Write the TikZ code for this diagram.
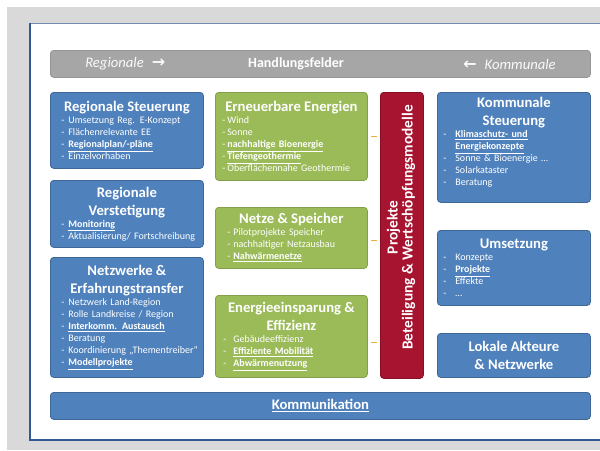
\documentclass[tikz,border=0pt]{standalone}
\usepackage{fontspec}
\setmainfont{Carlito}
\newfontfamily\arrowfont{DejaVu Sans}
\usepackage{tikz}
\usetikzlibrary{calc, positioning}

\definecolor{slidegray}{RGB}{217,217,217}
\definecolor{slideline}{RGB}{52,88,150}
\definecolor{bargray}{RGB}{166,166,166}
\definecolor{boxblue}{RGB}{79,129,189}
\definecolor{boxgreen}{RGB}{155,187,89}
\definecolor{boxred}{RGB}{166,20,48}
\definecolor{dashorange}{RGB}{240,172,60}

\newlength{\bulpre}
\newlength{\bulind}
\newcommand{\setbul}[2]{\setlength{\bulpre}{#1}\setlength{\bulind}{#2}}
\newcommand{\boxtitle}[1]{{\centering\fontsize{11}{13.5}\selectfont\bfseries #1\par}}
\newcommand{\bl}[1]{\par\hangindent=\bulind\hangafter=1\noindent\makebox[\bulind][l]{\hspace*{\bulpre}-}#1}
\newcommand{\ub}[1]{\underline{\textbf{#1}}}

\begin{document}
\begin{tikzpicture}[x=0.75pt,y=0.75pt,yscale=-1,xscale=1,
  box/.style={rounded corners=2.5pt, anchor=north west, inner sep=0pt, align=left, text=white, line width=0.6pt,
    font={\fontsize{7.5}{9}\selectfont\setlength{\parindent}{0pt}}},
  bluebox/.style={box, fill=boxblue, draw=boxblue!80!black},
  greenbox/.style={box, fill=boxgreen, draw=boxgreen!85!black},
  redbox/.style={box, fill=boxred, draw=boxred!80!black, align=center},
  barbox/.style={box, fill=bargray, draw=bargray!90!black},
  bartext/.style={inner sep=0pt, text=white, font=\fontsize{11}{13}\selectfont},
  dashline/.style={draw=dashorange, line width=1.2pt, shorten <=2.25pt, shorten >=2.25pt}]
		\useasboundingbox (0,0) rectangle (600,450);

		%Shape: Slide background
		\fill [slidegray] (7,7) rectangle (600,450);
		\fill [white] (30,23) rectangle (600,440);
		\draw [slideline!60!slidegray, line width=0.6pt] (30,23) -- (600,23);
		\draw [slideline, line width=1pt] (30,23) -- (30,440) -- (600,440);

		%Shape: Rectangle [Handlungsfelder bar]
		\node [barbox, minimum width=405pt, minimum height=20.25pt] (hf) at (50,50) {};
		% Text Node
		\node [bartext, anchor=west, text=white!94!bargray] (reg) at (85,64) {\textit{Regionale}\hspace{6pt}{\arrowfont\bfseries\fontsize{12}{13}\selectfont →}};
		% Text Node
		\node [bartext, font=\fontsize{10.5}{12}\selectfont\bfseries] (hftext) at (296,64) {Handlungsfelder};
		% Text Node
		\node [bartext, anchor=east, text=white!94!bargray] (komm) at (556,64) {{\arrowfont\bfseries\fontsize{12}{13}\selectfont ←}\hspace{6pt}\textit{Kommunale}};

		%Shape: Rectangle [Regionale Steuerung]
		\node [bluebox, text width=114.75pt, minimum height=57pt] (regst) at (50,92) {\setbul{8.25pt}{13.5pt}%
			\boxtitle{Regionale Steuerung}%
			\bl{Umsetzung Reg. E-Konzept}\bl{Flächenrelevante EE}\bl{\ub{Regionalplan/-pläne}}\bl{Einzelvorhaben}};
		%Shape: Rectangle [Regionale Verstetigung]
		\node [bluebox, text width=114.75pt, minimum height=50.25pt] (regvst) at (50,180) {\setbul{8.25pt}{13.5pt}%
			\boxtitle{Regionale\\Verstetigung}%
			\bl{\ub{Monitoring}}\bl{Aktualisierung/ Fortschreibung}};
		%Shape: Rectangle [Netzwerke]
		\node [bluebox, text width=114.75pt, minimum height=90pt] (netz) at (50,257) {\setbul{8.25pt}{13.5pt}%
			\boxtitle{Netzwerke \&\\Erfahrungstransfer}%
			\bl{Netzwerk Land-Region}\bl{Rolle Landkreise / Region}\bl{\ub{Interkomm. Austausch}}\bl{Beratung}%
			\bl{\mbox{Koordinierung „Thementreiber“}}\bl{\ub{Modellprojekte}}};

		%Shape: Rectangle [Erneuerbare Energien]
		\node [greenbox, text width=114pt, minimum height=66pt] (ee) at (215,92) {\setbul{5.25pt}{9pt}%
			\boxtitle{Erneuerbare Energien}%
			\bl{Wind}\bl{Sonne}\bl{\ub{nachhaltige Bioenergie}}\bl{\ub{Tiefengeothermie}}\bl{Oberflächennahe Geothermie}};
		%Shape: Rectangle [Netze und Speicher]
		\node [greenbox, text width=114pt, minimum height=45.75pt] (nsp) at (215,207) {\setbul{9pt}{13.5pt}%
			\boxtitle{Netze \& Speicher}%
			\bl{Pilotprojekte Speicher}\bl{nachhaltiger Netzausbau}\bl{\ub{Nahwärmenetze}}};
		%Shape: Rectangle [Energieeinsparung]
		\node [greenbox, text width=114pt, minimum height=61.5pt] (eff) at (215,295) {\setbul{6pt}{13.5pt}%
			\boxtitle{Energieeinsparung \&\\Effizienz}%
			\bl{Gebäudeeffizienz}\bl{\ub{Effiziente Mobilität}}\bl{\ub{Abwärmenutzung}}};

		%Shape: Rectangle [Projekte]
		\node [redbox, text width=32.25pt, minimum height=214.5pt] (proj) at (380,92)
			{\vspace*{12pt}\rotatebox{90}{\fontsize{11.5}{11}\selectfont\bfseries\begin{tabular}{@{}c@{}}Projekte\\Beteiligung \& Wertschöpfungsmodelle\end{tabular}}};

		%Shape: Rectangle [Kommunale Steuerung]
		\node [bluebox, text width=114.75pt, minimum height=82.5pt] (kst) at (437,92) {\setbul{4.5pt}{13.5pt}%
			\boxtitle{Kommunale\\Steuerung}%
			\bl{\ub{Klimaschutz- und}\hfil\break\ub{Energiekonzepte}}\bl{Sonne \& Bioenergie …}\bl{Solarkataster}\bl{Beratung}\par\vspace{8pt}};
		%Shape: Rectangle [Umsetzung]
		\node [bluebox, text width=114.75pt, minimum height=56.25pt] (ums) at (437,230) {\setbul{4.5pt}{13.5pt}%
			\boxtitle{Umsetzung}%
			\bl{Konzepte}\bl{\ub{Projekte}}\bl{Effekte}\bl{…}};
		%Shape: Rectangle [Lokale Akteure]
		\node [bluebox, text width=114.75pt, minimum height=33pt] (lak) at (437,333) {\boxtitle{Lokale Akteure\\\& Netzwerke}};

		%Shape: Rectangle [Kommunikation]
		\node [bluebox, text width=405pt, minimum height=20.25pt, align=center, font=\fontsize{11}{13}\selectfont] (kom) at (50,392) {\ub{Kommunikation}};

		%Straight Lines [green fields to Projekte]
		\draw [dashline] (ee.east) -- (ee.east -| proj.west);
		\draw [dashline] ($(nsp.east)+(0,2.5)$) -- ($(nsp.east -| proj.west)+(0,2.5)$);
		\draw [dashline] ($(eff.east)+(0,6)$) -- ($(eff.east -| proj.west)+(0,6)$);

	\end{tikzpicture}
\end{document}
